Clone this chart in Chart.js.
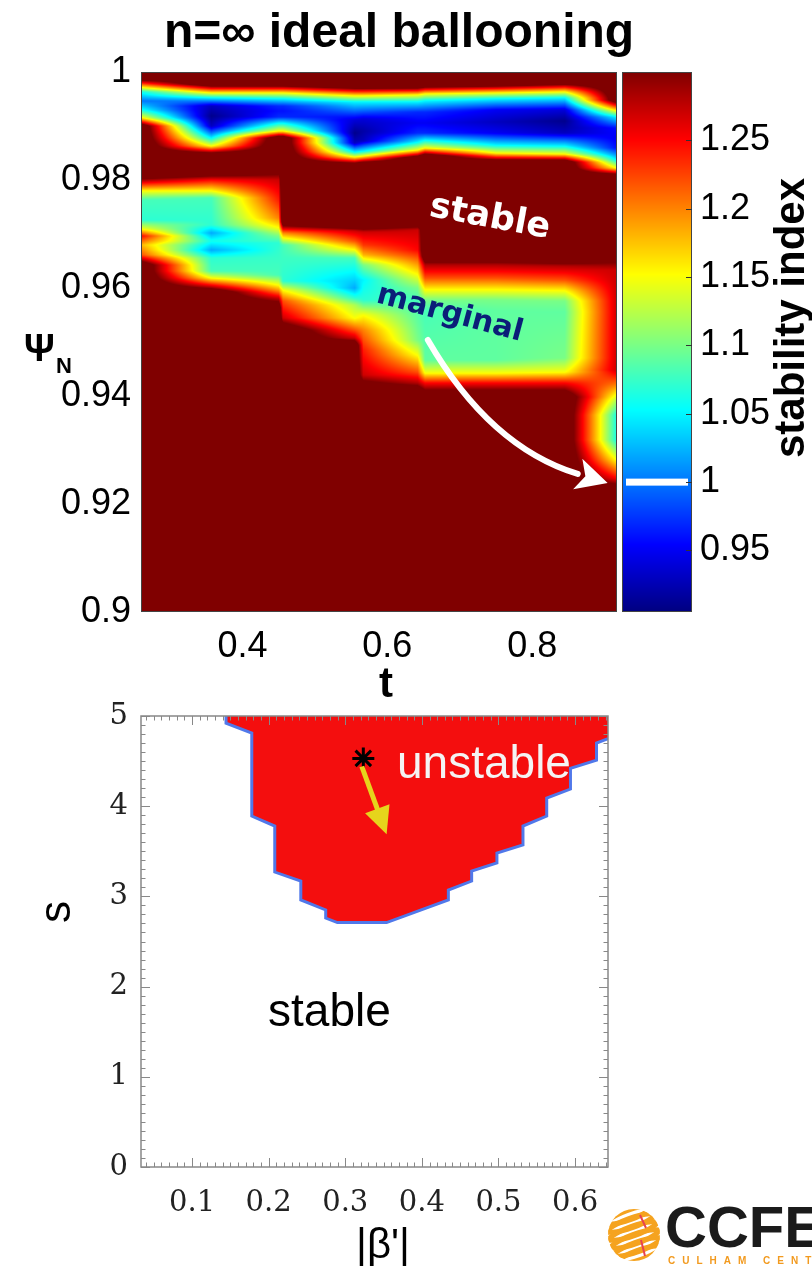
<!DOCTYPE html>
<html>
<head>
<meta charset="utf-8">
<script src="https://cdn.jsdelivr.net/npm/chart.js@4.4.1/dist/chart.umd.min.js"></script>
<style>
  body { margin: 0; background: #fff; width: 812px; height: 1266px; position: relative; overflow: hidden; }
  canvas { position: absolute; }
  #mapa { left: 0; top: 0; }
  #barra { left: 612px; top: 0; }
  #salfa { left: 0; top: 684px; }
</style>
</head>
<body>
<canvas id="mapa" width="812" height="712"></canvas>
<canvas id="barra" width="200" height="712"></canvas>
<canvas id="salfa" width="812" height="582"></canvas>
<script>
// ---------- Datos del mapa n = infinito ----------
const tTicks = [0.4, 0.6, 0.8];
const psiTicks = [0.9, 0.92, 0.94, 0.96, 0.98, 1];
const cbarTicks = [0.95, 1, 1.05, 1.1, 1.15, 1.2, 1.25];
const cbarRange = [0.905, 1.30];
const stableValue = 1.35;

// tiempos de cada columna del mapa
const tColumns = [0.26, 0.357, 0.450, 0.456, 0.555, 0.567, 0.642, 0.652, 0.75, 0.845, 0.917];

// perfil de cada columna: pares [psiN, indice de estabilidad] (psiN decreciente)
const psiProfiles = [
  [[0.99889,1.35],[0.99741,1.18],[0.99630,1.06],[0.99463,1.0],[0.99296,1.06],[0.99148,1.16],[0.99000,1.35],
   [0.98093,1.35],[0.97944,1.25],[0.97796,1.15],[0.97630,1.08],[0.97259,1.07],[0.97093,1.15],[0.96963,1.25],
   [0.96796,1.18],[0.96611,1.22],[0.96426,1.35]],
  [[0.99778,1.35],[0.99611,1.15],[0.99519,1.05],[0.99370,0.93],[0.99185,0.91],[0.99000,0.93],[0.98778,1.05],
   [0.98630,1.15],[0.98463,1.35],
   [0.98148,1.35],[0.98000,1.25],[0.97796,1.15],[0.97667,1.08],[0.97167,1.07],[0.97019,1.02],[0.96870,1.06],
   [0.96704,1.02],[0.96556,1.07],[0.96315,1.08],[0.96185,1.15],[0.96056,1.25],[0.95926,1.35]],
  [[0.99778,1.35],[0.99611,1.15],[0.99500,1.05],[0.99370,0.97],[0.99278,0.96],[0.99167,0.97],[0.99056,1.05],
   [0.98907,1.15],[0.98778,1.35],
   [0.98278,1.35],[0.98000,1.27],[0.97630,1.24],[0.97296,1.20],[0.97111,1.15],[0.96963,1.10],[0.96833,1.07],
   [0.96241,1.08],[0.96056,1.15],[0.95944,1.20],[0.95815,1.27],[0.95630,1.35]],
  [[0.99778,1.35],[0.99611,1.15],[0.99500,1.05],[0.99370,0.97],[0.99278,0.96],[0.99167,0.97],[0.99056,1.05],
   [0.98907,1.15],[0.98778,1.35],
   [0.97222,1.35],[0.97111,1.27],[0.97019,1.20],[0.96926,1.15],[0.96796,1.08],[0.96130,1.07],[0.95963,1.15],
   [0.95759,1.22],[0.95444,1.27],[0.95222,1.35]],
  [[0.99741,1.35],[0.99556,1.15],[0.99444,1.05],[0.99111,0.94],[0.98870,0.91],[0.98685,0.93],[0.98519,1.05],
   [0.98426,1.15],[0.98278,1.35],
   [0.97167,1.35],[0.97056,1.27],[0.96870,1.22],[0.96704,1.15],[0.96556,1.08],[0.96000,1.02],[0.95815,1.07],
   [0.95685,1.12],[0.95444,1.15],[0.95222,1.22],[0.95074,1.27],[0.94944,1.35]],
  [[0.99741,1.35],[0.99556,1.15],[0.99444,1.05],[0.99130,0.94],[0.98907,0.92],[0.98722,0.93],[0.98537,1.05],
   [0.98444,1.15],[0.98296,1.35],
   [0.97167,1.35],[0.97037,1.27],[0.96796,1.23],[0.96611,1.18],[0.96426,1.10],[0.96148,1.05],[0.95778,1.07],
   [0.95500,1.15],[0.95222,1.20],[0.94852,1.24],[0.94389,1.27],[0.94111,1.35]],
  [[0.99741,1.35],[0.99574,1.15],[0.99444,1.05],[0.99259,0.97],[0.99056,0.95],[0.98870,0.97],[0.98704,1.05],
   [0.98556,1.15],[0.98407,1.35],
   [0.97222,1.35],[0.97074,1.27],[0.96704,1.25],[0.96481,1.20],[0.96241,1.15],[0.96000,1.10],[0.95778,1.08],
   [0.95037,1.10],[0.94759,1.15],[0.94444,1.22],[0.94241,1.28],[0.94074,1.35]],
  [[0.99759,1.35],[0.99593,1.15],[0.99463,1.05],[0.99259,0.97],[0.99056,0.95],[0.98870,0.97],[0.98741,1.05],
   [0.98593,1.15],[0.98444,1.35],
   [0.96593,1.35],[0.96426,1.28],[0.96185,1.22],[0.95963,1.15],[0.95778,1.10],[0.95593,1.08],[0.94667,1.09],
   [0.94426,1.15],[0.94241,1.25],[0.93981,1.35]],
  [[0.99778,1.35],[0.99611,1.15],[0.99500,1.05],[0.99296,0.95],[0.99074,0.93],[0.98870,0.95],[0.98648,1.05],
   [0.98500,1.15],[0.98333,1.35],
   [0.96593,1.35],[0.96426,1.28],[0.96185,1.22],[0.95963,1.15],[0.95778,1.10],[0.95593,1.09],[0.94667,1.09],
   [0.94426,1.15],[0.94241,1.25],[0.93981,1.35]],
  [[0.99815,1.35],[0.99630,1.15],[0.99519,1.05],[0.99296,0.94],[0.99093,0.91],[0.98870,0.93],[0.98630,1.05],
   [0.98481,1.15],[0.98333,1.35],
   [0.96556,1.35],[0.96407,1.28],[0.96148,1.22],[0.95944,1.15],[0.95759,1.10],[0.95556,1.09],[0.94704,1.10],
   [0.94444,1.15],[0.94241,1.25],[0.93981,1.35]],
  [[0.99481,1.35],[0.99278,1.15],[0.99167,1.05],[0.98963,0.96],[0.98778,0.95],[0.98593,0.96],[0.98370,1.05],
   [0.98222,1.15],[0.98074,1.35],
   [0.96704,1.35],[0.96333,1.27],[0.94481,1.27],[0.94204,1.20],[0.93926,1.12],[0.93648,1.06],[0.93185,1.06],
   [0.92815,1.15],[0.92481,1.25],[0.92259,1.35]]
];

// ---------- Datos del diagrama s - alpha ----------
const betaTicks = [0.1, 0.2, 0.3, 0.4, 0.5, 0.6];
const sTicks = [0, 1, 2, 3, 4, 5];
const betaBoundary = [0.1444, 0.1444, 0.178, 0.178, 0.208, 0.208, 0.242, 0.242, 0.2745, 0.2745, 0.2897, 0.354,
  0.4346, 0.4346, 0.465, 0.465, 0.498, 0.498, 0.532, 0.532, 0.563, 0.563, 0.594, 0.594, 0.628, 0.628, 0.643];
const sBoundary = [5.0, 4.92, 4.81, 3.89, 3.78, 3.27, 3.17, 2.96, 2.85, 2.76, 2.71, 2.71,
  2.96, 3.07, 3.17, 3.28, 3.37, 3.48, 3.57, 3.78, 3.89, 4.09, 4.19, 4.42, 4.51, 4.70, 4.75];
const betaStar = [0.3236];
const sStar = [4.53];
const betaArrow = [0.3216, 0.354];
const sArrow = [4.44, 3.69];

const fuente = "'Liberation Sans', Arial, sans-serif";
const fmt = v => String(parseFloat(Number(v).toFixed(2)));

// mapa de colores tipo "jet"
function jetColor(v) {
  const f = Math.min(1, Math.max(0, (v - cbarRange[0]) / (cbarRange[1] - cbarRange[0])));
  const c = x => Math.round(255 * Math.min(1, Math.max(0, x)));
  return [c(1.5 - Math.abs(4 * f - 3)), c(1.5 - Math.abs(4 * f - 2)), c(1.5 - Math.abs(4 * f - 1))];
}

function profileValue(prof, psi) {
  if (psi > prof[0][0] || psi < prof[prof.length - 1][0]) return stableValue;
  for (let k = 0; k < prof.length - 1; k++) {
    const a = prof[k], b = prof[k + 1];
    if (psi <= a[0] && psi >= b[0]) {
      const w = (a[0] - psi) / (a[0] - b[0]);
      return a[1] + w * (b[1] - a[1]);
    }
  }
  return stableValue;
}

function drawHead(ctx, from, tip, half, notch) {
  const dx = tip[0] - from[0], dy = tip[1] - from[1];
  const len = Math.hypot(dx, dy), ux = dx / len, uy = dy / len;
  const bx = tip[0] - ux * len, by = tip[1] - uy * len;
  ctx.beginPath();
  ctx.moveTo(tip[0], tip[1]);
  ctx.lineTo(bx - uy * half, by + ux * half);
  ctx.lineTo(bx + ux * notch, by + uy * notch);
  ctx.lineTo(bx + uy * half, by - ux * half);
  ctx.closePath();
  ctx.fill();
}

// Dibuja el mapa con sombreado interpolado
const heatmapPlugin = {
  id: 'heatmap',
  beforeDatasetsDraw(chart) {
    const {ctx, chartArea: a, scales: {x, y}} = chart;
    const w = Math.round(a.right - a.left), h = Math.round(a.bottom - a.top);
    const off = document.createElement('canvas');
    off.width = w; off.height = h;
    const octx = off.getContext('2d');
    const img = octx.createImageData(w, h);
    const cols = psiProfiles.map(prof => {
      const arr = new Float32Array(h);
      for (let j = 0; j < h; j++) arr[j] = profileValue(prof, y.getValueForPixel(a.top + j + 0.5));
      return arr;
    });
    for (let i = 0; i < w; i++) {
      const t = x.getValueForPixel(a.left + i + 0.5);
      let k = 0;
      while (k < tColumns.length - 2 && t > tColumns[k + 1]) k++;
      const f = Math.min(1, Math.max(0, (t - tColumns[k]) / (tColumns[k + 1] - tColumns[k])));
      for (let j = 0; j < h; j++) {
        const rgb = jetColor(cols[k][j] * (1 - f) + cols[k + 1][j] * f);
        const p = (j * w + i) * 4;
        img.data[p] = rgb[0]; img.data[p + 1] = rgb[1]; img.data[p + 2] = rgb[2]; img.data[p + 3] = 255;
      }
    }
    octx.putImageData(img, 0, 0);
    ctx.drawImage(off, a.left, a.top);
  },
  afterDatasetsDraw(chart) {
    const {ctx, chartArea: a, scales: {x, y}} = chart;
    ctx.save();
    // flecha blanca
    const p0 = [x.getPixelForValue(0.6559), y.getPixelForValue(0.95037)];
    const p1 = [x.getPixelForValue(0.7414), y.getPixelForValue(0.93056)];
    const p2 = [x.getPixelForValue(0.8628), y.getPixelForValue(0.92556)];
    const tip = [x.getPixelForValue(0.9041), y.getPixelForValue(0.92389)];
    ctx.strokeStyle = '#fff'; ctx.fillStyle = '#fff'; ctx.lineWidth = 6; ctx.lineCap = 'round';
    ctx.beginPath(); ctx.moveTo(p0[0], p0[1]); ctx.quadraticCurveTo(p1[0], p1[1], p2[0], p2[1]); ctx.stroke();
    drawHead(ctx, p2, tip, 16, 8);
    // textos
    ctx.textAlign = 'center'; ctx.textBaseline = 'middle';
    ctx.translate(x.getPixelForValue(0.7414), y.getPixelForValue(0.97296));
    ctx.rotate(10.5 * Math.PI / 180);
    ctx.font = "bold 35px 'DejaVu Sans', sans-serif";
    ctx.fillStyle = '#fff';
    ctx.fillText('stable', 0, 0);
    ctx.setTransform(1, 0, 0, 1, 0, 0);
    ctx.translate(x.getPixelForValue(0.6862), y.getPixelForValue(0.95520));
    ctx.rotate(15 * Math.PI / 180);
    ctx.font = "bold 30px 'DejaVu Sans', sans-serif";
    ctx.fillStyle = '#0b1e78';
    ctx.fillText('marginal', 0, 0);
    ctx.restore();
    // marco
    ctx.save();
    ctx.strokeStyle = '#444'; ctx.lineWidth = 1;
    ctx.strokeRect(a.left + 0.5, a.top + 0.5, a.right - a.left - 1, a.bottom - a.top - 1);
    // titulo y ejes
    ctx.fillStyle = '#000';
    ctx.textAlign = 'center'; ctx.textBaseline = 'alphabetic';
    ctx.font = 'bold 48px ' + fuente;
    ctx.fillText('n=\u221e ideal ballooning', 399, 47);
    ctx.font = 'bold 42px ' + fuente;
    ctx.fillText('t', 386, 697);
    ctx.textAlign = 'left';
    ctx.font = 'bold 38px ' + fuente;
    ctx.fillText('\u03a8', 24, 361);
    ctx.font = 'bold 22px ' + fuente;
    ctx.fillText('N', 56, 373);
    ctx.restore();
  }
};

new Chart(document.getElementById('mapa'), {
  type: 'scatter',
  data: { datasets: [{ data: [] }] },
  options: {
    responsive: false,
    animation: false,
    layout: { padding: { top: 72, right: 195, left: 0, bottom: 0 } },
    plugins: { legend: { display: false }, tooltip: { enabled: false } },
    scales: {
      x: {
        type: 'linear', min: 0.26, max: 0.917,
        grid: { display: false, drawTicks: false }, border: { display: false },
        afterBuildTicks: s => { s.ticks = tTicks.map(v => ({ value: v })); },
        afterFit: s => { s.height = 100; },
        ticks: { color: '#000', font: { family: fuente, size: 36 }, padding: 13, maxRotation: 0, callback: fmt }
      },
      y: {
        type: 'linear', min: 0.9, max: 1.0,
        grid: { display: false, drawTicks: false }, border: { display: false },
        afterBuildTicks: s => { s.ticks = psiTicks.map(v => ({ value: v })); },
        afterFit: s => { s.width = 141; },
        ticks: { color: '#000', font: { family: fuente, size: 36 }, padding: 10, callback: fmt }
      }
    }
  },
  plugins: [heatmapPlugin]
});

// Barra de colores
const colorbarPlugin = {
  id: 'colorbar',
  beforeDatasetsDraw(chart) {
    const {ctx, chartArea: a, scales: {y}} = chart;
    ctx.save();
    for (let py = Math.round(a.top); py < a.bottom; py++) {
      const rgb = jetColor(y.getValueForPixel(py + 0.5));
      ctx.fillStyle = `rgb(${rgb[0]},${rgb[1]},${rgb[2]})`;
      ctx.fillRect(a.left, py, a.right - a.left, 1);
    }
    ctx.fillStyle = '#fff';
    ctx.fillRect(a.left + 4, y.getPixelForValue(1) - 3.5, a.right - a.left - 8, 7);
    ctx.strokeStyle = '#444'; ctx.lineWidth = 1;
    ctx.strokeRect(a.left + 0.5, a.top + 0.5, a.right - a.left - 1, a.bottom - a.top - 1);
    ctx.strokeStyle = '#333';
    cbarTicks.forEach(v => {
      const py = Math.round(y.getPixelForValue(v)) + 0.5;
      ctx.beginPath(); ctx.moveTo(a.right, py); ctx.lineTo(a.right - 6, py); ctx.stroke();
    });
    ctx.translate(180, 318);
    ctx.rotate(-Math.PI / 2);
    ctx.fillStyle = '#000';
    ctx.font = 'bold 42px ' + fuente;
    ctx.textAlign = 'center'; ctx.textBaseline = 'middle';
    ctx.fillText('stability index', 0, 0);
    ctx.restore();
  }
};

new Chart(document.getElementById('barra'), {
  type: 'scatter',
  data: { datasets: [{ data: [] }] },
  options: {
    responsive: false,
    animation: false,
    layout: { padding: { top: 72, left: 10, bottom: 100, right: 0 } },
    plugins: { legend: { display: false }, tooltip: { enabled: false } },
    scales: {
      x: { display: false, min: 0, max: 1 },
      y: {
        position: 'right', min: cbarRange[0], max: cbarRange[1],
        grid: { display: false, drawTicks: false }, border: { display: false },
        afterBuildTicks: s => { s.ticks = cbarTicks.map(v => ({ value: v })); },
        afterFit: s => { s.width = 120; },
        ticks: { color: '#000', font: { family: fuente, size: 36 }, padding: 8, callback: fmt }
      }
    }
  },
  plugins: [colorbarPlugin]
});

// Diagrama s - alpha
const salfaPlugin = {
  id: 'salfa',
  afterDatasetsDraw(chart) {
    const {ctx, chartArea: a, scales: {x, y}} = chart;
    ctx.save();
    // flecha amarilla
    const from = [x.getPixelForValue(betaArrow[0]), y.getPixelForValue(sArrow[0])];
    const tip = [x.getPixelForValue(betaArrow[1]), y.getPixelForValue(sArrow[1])];
    const len = Math.hypot(tip[0] - from[0], tip[1] - from[1]);
    const ux = (tip[0] - from[0]) / len, uy = (tip[1] - from[1]) / len;
    const base = [tip[0] - ux * 27, tip[1] - uy * 27];
    ctx.strokeStyle = '#e6d41c'; ctx.fillStyle = '#e6d41c'; ctx.lineWidth = 5;
    ctx.beginPath(); ctx.moveTo(from[0], from[1]); ctx.lineTo(base[0] + ux * 4, base[1] + uy * 4); ctx.stroke();
    drawHead(ctx, base, tip, 13, 0);
    // marco y marcas
    ctx.strokeStyle = '#888'; ctx.lineWidth = 1.5;
    ctx.strokeRect(a.left, a.top, a.right - a.left, a.bottom - a.top);
    ctx.lineWidth = 1;
    ctx.beginPath();
    for (let k = 0; k <= 64; k++) {
      const b = k / 100;
      if (b < x.min || b > x.max) continue;
      const px = Math.round(x.getPixelForValue(b)) + 0.5;
      const l = k % 10 === 0 ? 9 : 4.5;
      ctx.moveTo(px, a.bottom); ctx.lineTo(px, a.bottom - l);
      ctx.moveTo(px, a.top); ctx.lineTo(px, a.top + l);
    }
    for (let k = 0; k <= 50; k++) {
      const py = Math.round(y.getPixelForValue(k / 10)) + 0.5;
      const l = k % 10 === 0 ? 9 : 4.5;
      ctx.moveTo(a.left, py); ctx.lineTo(a.left + l, py);
      ctx.moveTo(a.right, py); ctx.lineTo(a.right - l, py);
    }
    ctx.stroke();
    // textos
    ctx.textAlign = 'left'; ctx.textBaseline = 'alphabetic';
    ctx.font = '46px ' + fuente;
    ctx.fillStyle = '#f4f4f4';
    ctx.fillText('unstable', x.getPixelForValue(0.3676), y.getPixelForValue(4.313));
    ctx.fillStyle = '#000';
    ctx.fillText('stable', x.getPixelForValue(0.1992), y.getPixelForValue(1.567));
    ctx.textAlign = 'center';
    ctx.font = '42px ' + fuente;
    ctx.fillText("|\u03b2'|", 383, 574);
    ctx.save();
    ctx.translate(70, 228);
    ctx.rotate(-Math.PI / 2);
    ctx.font = '44px ' + fuente;
    ctx.fillText('s', 0, 0);
    ctx.restore();
    ctx.restore();
  },
  afterDraw(chart) {
    // logotipo
    const ctx = chart.ctx;
    ctx.save();
    ctx.beginPath(); ctx.arc(634, 551, 26, 0, 2 * Math.PI); ctx.clip();
    ctx.strokeStyle = '#f5a31f'; ctx.lineWidth = 5;
    for (let k = -3; k <= 3; k++) {
      ctx.beginPath();
      ctx.ellipse(634 + k * 2, 551 + k * 8, 30, 9, -0.35, 0, 2 * Math.PI);
      ctx.stroke();
    }
    ctx.strokeStyle = '#e8434f'; ctx.lineWidth = 2;
    ctx.beginPath(); ctx.moveTo(640, 531); ctx.lineTo(646, 544); ctx.moveTo(641, 556); ctx.lineTo(645, 572); ctx.stroke();
    ctx.restore();
    ctx.save();
    ctx.fillStyle = '#1b1b1b';
    ctx.font = 'bold 58px ' + fuente;
    ctx.textAlign = 'left'; ctx.textBaseline = 'alphabetic';
    ctx.fillText('CCFE', 665, 563);
    ctx.fillStyle = '#f29a1f';
    ctx.font = 'bold 10px ' + fuente;
    ctx.letterSpacing = '7px';
    ctx.fillText('CULHAM CENTRE FOR FUSION ENERGY', 668, 580);
    ctx.restore();
  }
};

new Chart(document.getElementById('salfa'), {
  type: 'line',
  data: {
    datasets: [
      {
        label: 'equilibrio',
        data: betaStar.map((b, i) => ({ x: b, y: sStar[i] })),
        showLine: false,
        pointStyle: 'star',
        pointRadius: 11,
        pointBorderWidth: 3,
        pointBorderColor: '#000',
        order: 0
      },
      {
        label: 'frontera',
        data: betaBoundary.map((b, i) => ({ x: b, y: sBoundary[i] })),
        borderColor: '#5078ea',
        borderWidth: 3,
        backgroundColor: '#f40e0e',
        fill: 'end',
        pointRadius: 0,
        tension: 0,
        order: 1
      }
    ]
  },
  options: {
    responsive: false,
    animation: false,
    layout: { padding: { top: 32, right: 204, left: 0, bottom: 0 } },
    plugins: { legend: { display: false }, tooltip: { enabled: false } },
    scales: {
      x: {
        type: 'linear', min: 0.0334, max: 0.643,
        grid: { display: false, drawTicks: false }, border: { display: false },
        afterBuildTicks: s => { s.ticks = betaTicks.map(v => ({ value: v })); },
        afterFit: s => { s.height = 99; },
        ticks: { color: '#222', font: { family: "'DejaVu Serif', serif", size: 29 }, padding: 19, maxRotation: 0, callback: fmt }
      },
      y: {
        type: 'linear', min: 0, max: 5,
        grid: { display: false, drawTicks: false }, border: { display: false },
        afterBuildTicks: s => { s.ticks = sTicks.map(v => ({ value: v })); },
        afterFit: s => { s.width = 141; },
        ticks: { color: '#222', font: { family: "'DejaVu Serif', serif", size: 29 }, padding: 13, callback: fmt }
      }
    }
  },
  plugins: [salfaPlugin]
});
</script>
</body>
</html>
